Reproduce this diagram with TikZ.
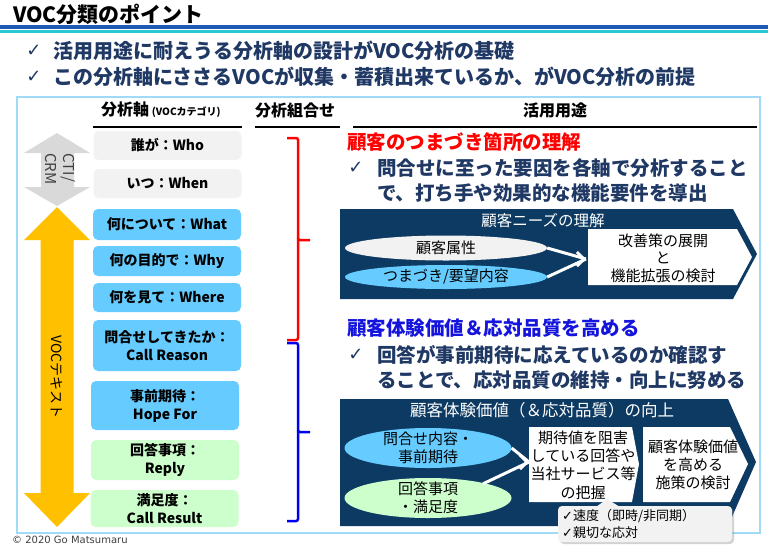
\documentclass[tikz,border=0pt]{standalone}
\usepackage{fontspec}
\setmainfont{Noto Sans CJK JP}
\newfontfamily\dejavu{DejaVu Sans}
\usetikzlibrary{arrows.meta,shapes.geometric,shadows}
\definecolor{navy}{RGB}{12,58,98}
\definecolor{navytext}{RGB}{31,56,100}
\definecolor{boxgray}{RGB}{242,242,242}
\definecolor{boxblue}{RGB}{102,204,255}
\definecolor{boxgreen}{RGB}{204,255,204}
\definecolor{framec}{RGB}{160,218,245}
\definecolor{lineblue}{RGB}{30,90,180}
\definecolor{linecyan}{RGB}{40,200,210}
\definecolor{arrowyellow}{RGB}{255,192,0}
\definecolor{arrowgray}{RGB}{217,217,217}
\definecolor{headred}{RGB}{255,0,0}
\definecolor{headblue}{RGB}{20,20,220}
\definecolor{braceblue}{RGB}{0,0,240}
\definecolor{darkgraytext}{RGB}{64,64,64}
\newcommand\fsz[2]{\fontsize{#1}{#2}\selectfont}
\begin{document}
\begin{tikzpicture}[x=1pt,y=-1pt,
  catbox/.style={rounded corners=5pt, minimum width=148pt, inner sep=0pt, align=center, font=\fsz{14}{18}\bfseries},
  ellshape/.style={ellipse, inner sep=0pt},
  txt/.style={inner sep=0pt, align=center},
  conn/.style={white, line width=3pt},
  headw/.style={white, line width=3pt, -{Straight Barb[length=7pt,width=14pt]}},
  bracepath/.style={line width=2.5pt, rounded corners=2pt},
  hdr/.style={inner sep=0pt, font=\fsz{16}{19}\bfseries},
  bullet/.style={inner sep=0pt, anchor=west, text=navytext, font=\fsz{19.5}{23}\bfseries},
  topbullet/.style={inner sep=0pt, anchor=west, text=navytext, font=\fsz{20}{24}\bfseries},
  chk/.style={inner sep=0pt, text=navytext, font=\dejavu\fsz{18}{21}},
]
\useasboundingbox (0,0) rectangle (768,550);
\fill[white] (0,0) rectangle (768,550);

% title and rules
\node[inner sep=0pt, anchor=west, font=\fsz{21}{24}\bfseries] (title) at (13,14) {VOC分類のポイント};
\fill[lineblue] (0,25) rectangle (768,29);
\fill[linecyan] (0,30.3) rectangle (768,33);

% top bullets
\node[chk] (c1) at (34,51) {✓};
\node[topbullet] (b1) at (53,51) {活用用途に耐えうる分析軸の設計がVOC分析の基礎};
\node[chk] (c2) at (34,77) {✓};
\node[topbullet] (b2) at (53,77) {この分析軸にささるVOCが収集・蓄積出来ているか、がVOC分析の前提};

% frame
\draw[framec, line width=1.5pt] (17,97) rectangle (760,533);

% column headers
\node[hdr, anchor=west] (h1) at (101,110) {分析軸\,{\fsz{10}{12}(VOCカテゴリ)}};
\node[hdr] (h2) at (295,110) {分析組合せ};
\node[hdr] (h3) at (555,110) {活用用途};
\draw[line width=1.2pt] (93,127) -- (242,127);
\draw[line width=1.2pt] (255,127) -- (340,127);
\draw[line width=1.2pt] (353,127) -- (757,127);

% left arrows
\fill[arrowgray] (57,133) -- (90,153) -- (74,153) -- (74,187) -- (90,187) -- (57,206) -- (24,187) -- (41,187) -- (41,153) -- (24,153) -- cycle;
\fill[arrowyellow] (57,207) -- (90,240) -- (73.5,240) -- (73.5,493) -- (90,493) -- (57,527) -- (24,493) -- (40.5,493) -- (40.5,240) -- (24,240) -- cycle;
\node[inner sep=0pt, rotate=-90, align=left, text=darkgraytext, font=\fsz{15}{18}] (cti) at (60,169) {CTI/\\CRM};
\node[inner sep=0pt, rotate=-90, font=\fsz{14}{17}] (voct) at (57,377) {VOCテキスト};

% category boxes
\node[catbox, fill=boxgray, minimum height=29pt] (who) at (167.5,145.5) {誰が：Who};
\node[catbox, fill=boxgray, minimum height=29pt] (when) at (167.5,183.5) {いつ：When};
\node[catbox, fill=boxblue, minimum height=31pt] (what) at (167,224.5) {何について：What};
\node[catbox, fill=boxblue, minimum height=30pt] (why) at (167,261) {何の目的で：Why};
\node[catbox, fill=boxblue, minimum height=29pt] (where) at (167,297.5) {何を見て：Where};
\node[catbox, fill=boxblue, minimum height=51pt] (reason) at (167,345.5) {問合せしてきたか：\\Call Reason};
\node[catbox, fill=boxblue, minimum height=49pt] (hope) at (165,405.5) {事前期待：\\Hope For};
\node[catbox, fill=boxgreen, minimum height=40pt] (reply) at (165,460) {回答事項：\\Reply};
\node[catbox, fill=boxgreen, minimum height=37pt] (result) at (164.5,508.5) {満足度：\\Call Result};

% braces
\draw[bracepath, red] (287,138) -- (298,138) -- (298,240) -- (310,240);
\draw[bracepath, red] (298,238) -- (298,340) -- (287,340);
\draw[bracepath, braceblue] (287,343) -- (298,343) -- (298,432) -- (310,432);
\draw[bracepath, braceblue] (298,430) -- (298,521) -- (287,521);

% section 1 text
\node[inner sep=0pt, anchor=west, text=headred, font=\fsz{19.5}{23}\bfseries] (s1) at (347,142) {顧客のつまづき箇所の理解};
\node[chk] (c3) at (356,168) {✓};
\node[bullet] (s1a) at (377,168) {問合せに至った要因を各軸で分析すること};
\node[bullet] (s1b) at (377,193) {で、打ち手や効果的な機能要件を導出};

% section 1 panel
\fill[navy] (340,209) -- (733,209) -- (757,254) -- (733,299) -- (340,299) -- cycle;
\node[txt, text=white, font=\fsz{15.5}{18}] (p1t) at (543,221) {顧客ニーズの理解};
\node[ellshape, fill=boxgray, minimum width=202pt, minimum height=25pt] (ellA) at (446,248) {};
\node[ellshape, fill=boxblue, minimum width=202pt, minimum height=24pt] (ellB) at (446,277) {};
\node[txt, font=\fsz{15}{18}] (ellAt) at (ellA.center) {顧客属性};
\node[txt, font=\fsz{15}{18}] (ellBt) at (ellB.center) {つまづき/要望内容};
\fill[white] (588,229) -- (737,229) -- (752,257) -- (737,285) -- (588,285) -- cycle;
\node[txt, font=\fsz{15}{17.5}] (w1) at (663,258) {改善策の展開\\と\\機能拡張の検討};
\coordinate (t1) at (586,259);
\coordinate (t1a) at (584,259);
\draw[conn] (ellA.east) -- (t1);
\draw[conn] (ellB.east) -- (t1);
\draw[headw] (t1a) -- (t1);

% section 2 text
\node[inner sep=0pt, anchor=west, text=headblue, font=\fsz{19.5}{23}\bfseries] (s2) at (347,328) {顧客体験価値＆応対品質を高める};
\node[chk] (c4) at (356,355) {✓};
\node[bullet] (s2a) at (377,355) {回答が事前期待に応えているのか確認す};
\node[bullet] (s2b) at (377,380) {ることで、応対品質の維持・向上に努める};

% section 2 panel
\fill[navy] (340,399) -- (728,399) -- (756,462) -- (728,526) -- (340,526) -- cycle;
\node[txt, text=white, font=\fsz{16.5}{19}] (p2t) at (542,410) {顧客体験価値（＆応対品質）の向上};
\node[ellshape, fill=boxblue, minimum width=167pt, minimum height=40pt] (ellC) at (428,448) {};
\node[ellshape, fill=boxgreen, minimum width=167pt, minimum height=40pt] (ellD) at (428,498) {};
\node[txt, font=\fsz{15}{18}] (ellCt) at (ellC.center) {問合せ内容・\\事前期待};
\node[txt, font=\fsz{15}{18}] (ellDt) at (ellD.center) {回答事項\\・満足度};
\fill[white] (529,427) -- (632,427) -- (639,464) -- (632,502) -- (529,502) -- cycle;
\fill[white] (643,427) -- (730,427) -- (748,464) -- (730,502) -- (643,502) -- cycle;
\node[txt, font=\fsz{15}{18.3}] (w2a) at (583,465) {期待値を阻害\\している回答や\\当社サービス等\\の把握};
\node[txt, font=\fsz{15}{18}] (w2b) at (693,465) {顧客体験価値\\を高める\\施策の検討};
\coordinate (t2) at (529,462);
\coordinate (t2a) at (527,462);
\draw[conn] (ellC.east) -- (t2);
\draw[conn] ([xshift=-4pt]ellD.north east) -- (t2);
\draw[headw] (t2a) -- (t2);

% callout
\node[draw=none, fill=boxgray, rounded corners=4pt, minimum width=174pt, minimum height=36pt, inner sep=0pt,
      drop shadow={shadow xshift=2pt, shadow yshift=-2pt, opacity=0.35}] (call) at (645,524) {};
\fill[boxgray] (596,507) -- (607,499) -- (620,507) -- cycle;
\node[inner sep=0pt, anchor=west, align=left, font=\fsz{13}{17}] (callt) at (562,524) {{\dejavu ✓}速度（即時/非同期）\\{\dejavu ✓}親切な応対};

% copyright
\node[inner sep=0pt, anchor=west, text=darkgraytext, font=\dejavu\fsz{10}{12}] (copy) at (12,540) {© 2020 Go Matsumaru};
\end{tikzpicture}
\end{document}
